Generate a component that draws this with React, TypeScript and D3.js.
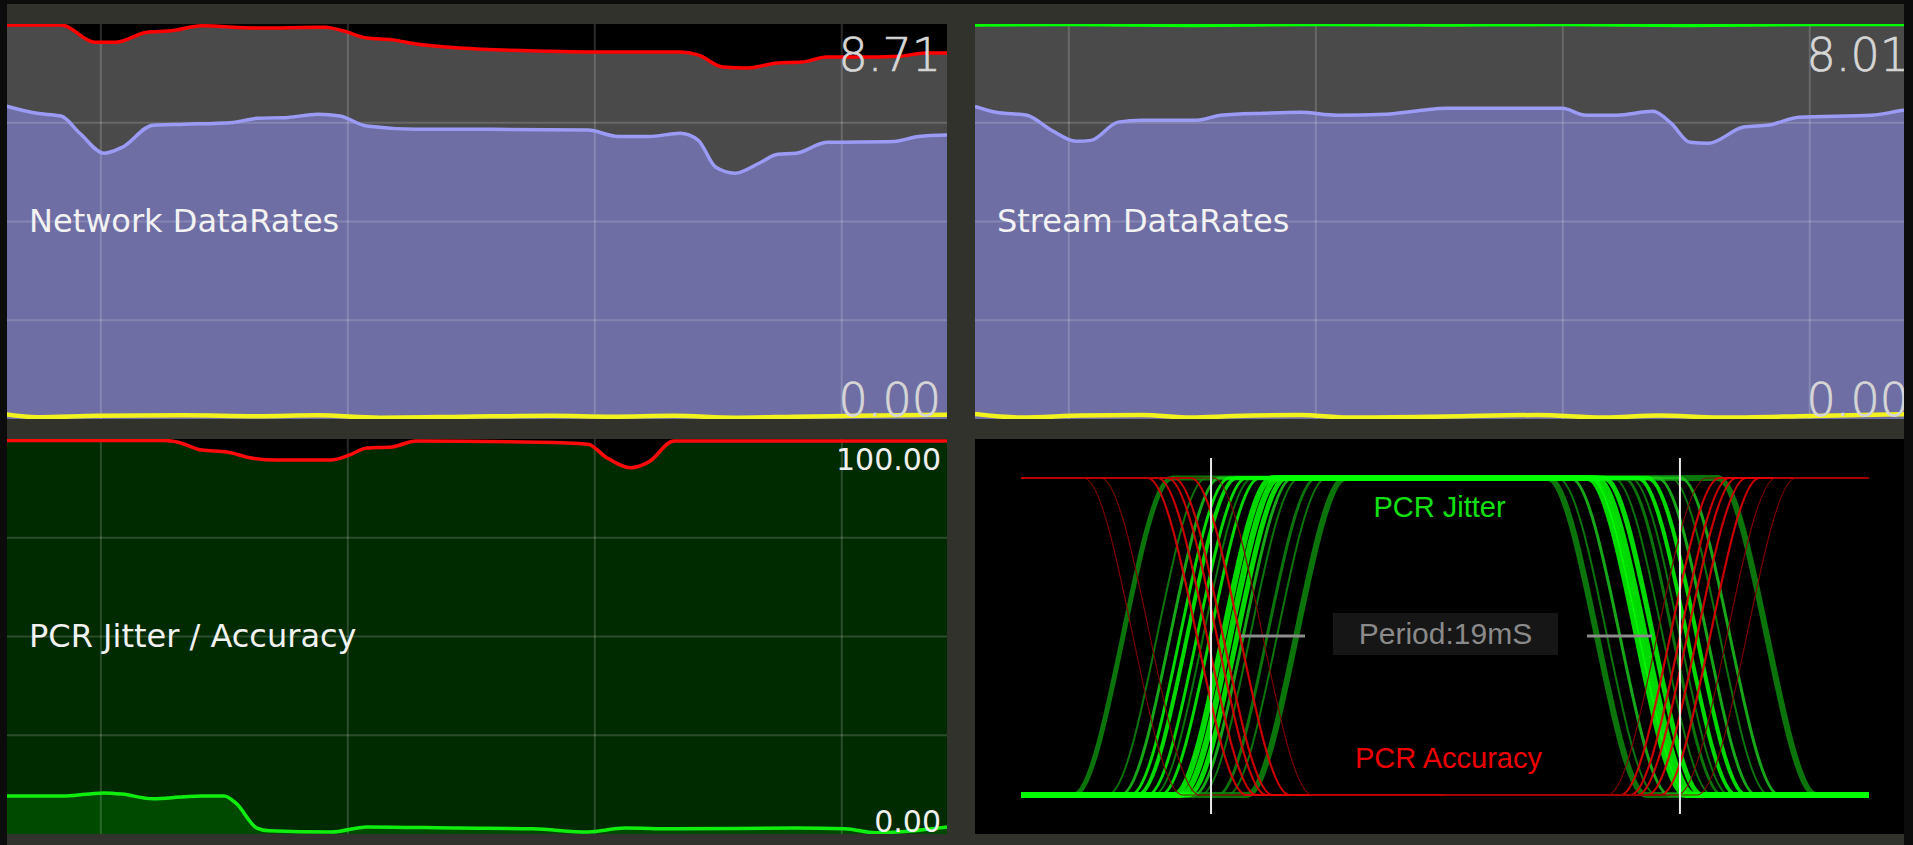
import React from 'react'
import * as d3 from 'd3'

// shared time axis for the three trend panels (grid every 10 units)
const trendDomain: [number, number] = [-3.8, 34.26]
const gridTimes = [0, 10, 20, 30]
const gridFractions = [0.25, 0.5, 0.75]

// Network DataRates (Mbps)
const netMax = 8.71
const netPeakT = [-3.84, -1.61, -0.24, 0.61, 1.87, 2.84, 4.09, 6.32, 9.07, 9.8, 10.77, 11.79, 12.76, 14.5, 18.22, 20.69, 23.45, 24.18, 25.19, 26.16, 27.41, 28.39, 29.4, 30.61, 32.35, 33.37, 34.26]
const netPeakV = [8.69, 8.69, 8.31, 8.31, 8.53, 8.56, 8.67, 8.62, 8.64, 8.56, 8.4, 8.36, 8.27, 8.18, 8.11, 8.09, 8.09, 8.03, 7.76, 7.74, 7.85, 7.87, 7.98, 7.98, 8.0, 8.07, 8.07]
const netRateT = [-3.84, -2.59, -1.61, -0.85, 0.13, 0.86, 2.11, 3.37, 5.35, 6.32, 7.58, 8.79, 9.68, 10.77, 12.76, 15.75, 19.72, 20.94, 22.19, 23.45, 24.18, 24.9, 25.67, 26.65, 27.41, 28.14, 29.4, 32.11, 33.12, 34.26]
const netRateV = [6.9, 6.74, 6.68, 6.3, 5.86, 5.99, 6.48, 6.5, 6.54, 6.63, 6.65, 6.72, 6.68, 6.46, 6.39, 6.39, 6.37, 6.23, 6.23, 6.3, 6.15, 5.55, 5.42, 5.64, 5.84, 5.86, 6.1, 6.12, 6.23, 6.26]
const netLowT = [-3.84, -2.59, -0.12, 3.37, 6.32, 8.79, 11.3, 14.7, 18.2, 20.7, 23.2, 25.7, 28.1, 30.6, 34.26]
const netLowV = [0.1, 0.04, 0.07, 0.08, 0.06, 0.08, 0.03, 0.05, 0.07, 0.05, 0.07, 0.03, 0.05, 0.07, 0.095]

// Stream DataRates (Mbps)
const streamMax = 8.01
const streamPeakT = [-3.8, 0, 5, 10, 15, 20, 25, 30, 34.26]
const streamPeakV = [7.99, 8.0, 7.98, 8.0, 7.99, 8.0, 7.98, 8.0, 8.0]
const streamRateT = [-3.8, -2.95, -1.7, -0.72, 0.29, 0.9, 1.99, 2.96, 5.19, 6.16, 7.9, 9.36, 10.86, 12.84, 14.3, 15.27, 19.97, 20.94, 22.19, 23.65, 24.38, 25.15, 25.88, 27.33, 28.35, 29.56, 32.52, 33.81, 34.26]
const streamRateV = [6.34, 6.22, 6.16, 5.86, 5.63, 5.65, 6.02, 6.06, 6.06, 6.16, 6.2, 6.22, 6.16, 6.18, 6.26, 6.3, 6.3, 6.16, 6.16, 6.24, 6.0, 5.61, 5.59, 5.92, 5.96, 6.12, 6.16, 6.26, 6.28]
const streamLowT = [-3.8, -1.94, 0.53, 2.96, 4.94, 6.69, 9.36, 11.34, 15.27, 18.95, 21.67, 23.89, 26.36, 30.05, 34.26]
const streamLowV = [0.1, 0.03, 0.07, 0.08, 0.03, 0.06, 0.08, 0.03, 0.05, 0.08, 0.03, 0.07, 0.03, 0.06, 0.1]

// PCR Jitter / Accuracy (%)
const pcrMax = 100
const accuracyT = [-3.84, 2.6, 3.12, 4.09, 5.11, 6.08, 7.09, 9.32, 10.05, 10.77, 11.79, 12.76, 17.74, 19.72, 20.45, 21.46, 22.19, 23.2, 34.26]
const accuracyV = [99.6, 99.6, 99.2, 97.2, 96.7, 95.2, 94.7, 94.7, 95.9, 97.7, 98.0, 99.5, 99.2, 98.7, 95.4, 92.7, 94.2, 99.5, 99.5]
const jitterT = [-3.84, -1.61, 0.13, 0.86, 2.11, 3.37, 4.09, 4.99, 5.47, 6.32, 6.81, 9.32, 10.77, 14.5, 17.5, 19.72, 21.22, 23.2, 28.14, 30.13, 31.38, 34.26]
const jitterV = [9.6, 9.6, 10.4, 10.1, 8.9, 9.4, 9.6, 9.6, 7.8, 1.5, 0.8, 0.5, 1.8, 1.5, 1.3, 0.5, 1.5, 1.3, 1.5, 1.3, 0.3, 1.8]

// PCR eye (ms)
const periodMs = 19
const eyeDomain: [number, number] = [-7.7, 26.66]
const edgeMs = 4.0
const greenRise = [-3.57, -2.19, -1.66, -1.26, -0.97, -0.57, -0.32, -0.04, 0.49, 0.77, 1.05, 1.3, 1.58, 2.27, 2.67, 3.45]
const greenRiseShade = ['dark', 'dark', 'mid', 'bright', 'bright', 'bright', 'dark', 'bright', 'bright', 'bright', 'bright', 'mid', 'dark', 'dark', 'dark', 'dark']
const greenRiseWidth = [5, 2, 3, 3, 4, 3, 2, 3, 6, 6, 5, 3, 2, 3, 2, 6]
const greenFall = [15.64, 16.05, 16.57, 17.26, 17.4, 17.59, 17.91, 18.31, 18.72, 19.0, 19.29, 19.69, 20.1, 20.62, 21.03, 22.53]
const greenFallShade = ['dark', 'dark', 'mid', 'bright', 'bright', 'bright', 'bright', 'dark', 'dark', 'dark', 'bright', 'bright', 'mid', 'dark', 'mid', 'dark']
const greenFallWidth = [6, 2, 3, 6, 4, 6, 5, 2, 3, 2, 4, 4, 3, 2, 3, 6]
const redFall = [-3.16, -2.47, -0.57, -0.16, 0.24, 0.49, 1.18, 2.1]
const redFallFaint = [true, true, false, false, false, false, false, true]
const redRise = [18.07, 18.6, 19.0, 19.29, 19.69, 20.22, 20.9, 21.7]
const redRiseFaint = [true, false, false, false, false, false, true, true]

const W = 940
const H = 395
const shadeColor: Record<string, string> = { bright: '#00ff00', mid: '#1cc41c', dark: '#0d8a0d' }
const shadeRank: Record<string, number> = { dark: 0, mid: 1, bright: 2 }

type Layer = { t: number[]; v: number[]; fill?: string; stroke: string; width: number }

const TrendPanel = ({ id, x0, y0, max, layers, label, topText, bottomText, big }: any) => {
  const x = d3.scaleLinear().domain(trendDomain).range([x0, x0 + W])
  const y = d3.scaleLinear().domain([0, max]).range([y0 + H, y0])
  const area = d3.area<[number, number]>().x(d => x(d[0])).y0(y0 + H).y1(d => y(d[1])).curve(d3.curveMonotoneX)
  const line = d3.line<[number, number]>().x(d => x(d[0])).y(d => y(d[1])).curve(d3.curveMonotoneX)
  const valueStyle = big
    ? { fontFamily: 'DejaVu Sans', fontSize: 46, fontWeight: 200, fill: '#d6d6d6', stroke: '#d6d6d6', strokeWidth: 0.7 }
    : { fontFamily: 'DejaVu Sans', fontSize: 30, fill: '#f0f0f0' }

  return (
    <g clipPath={`url(#${id})`}>
      <rect x={x0} y={y0} width={W} height={H} fill="#000" />
      {(layers as Layer[]).filter(l => l.fill).map((l, i) => (
        <path key={'a' + i} d={area(d3.zip(l.t, l.v) as [number, number][]) || ''} fill={l.fill} />
      ))}
      {gridTimes.map(t => (
        <line key={'gx' + t} x1={x(t)} x2={x(t)} y1={y0} y2={y0 + H} stroke="rgba(255,255,255,0.17)" strokeWidth={2} />
      ))}
      {gridFractions.map(f => (
        <line key={'gy' + f} x1={x0} x2={x0 + W} y1={y(max * f)} y2={y(max * f)} stroke="rgba(255,255,255,0.17)" strokeWidth={2} />
      ))}
      {(layers as Layer[]).map((l, i) => (
        <path key={'l' + i} d={line(d3.zip(l.t, l.v) as [number, number][]) || ''} fill="none" stroke={l.stroke} strokeWidth={l.width} />
      ))}
      <text x={x0 + 22} y={y0 + 208} fontFamily="DejaVu Sans" fontSize={32} fill="#f2f2f2">{label}</text>
      <text x={x0 + W - 6} y={big ? y0 + 47 : y0 + 31} textAnchor="end" {...valueStyle}>{topText}</text>
      <text x={x0 + W - 6} y={big ? y0 + 392 : y0 + 393} textAnchor="end" {...valueStyle}>{bottomText}</text>
    </g>
  )
}

const EyePanel = ({ id, x0, y0 }: any) => {
  const x = d3.scaleLinear().domain(eyeDomain).range([x0 + 46, x0 + 894])
  const y = d3.scaleLinear().domain([0, 1]).range([y0 + 356, y0 + 39])
  const line = d3.line<[number, number]>().x(d => x(d[0])).y(d => y(d[1])).curve(d3.curveMonotoneX)
  const mid = periodMs / 2
  const h = edgeMs / 2
  const edge = (a: number, b: number, t: number, start: number, end: number) =>
    line([[start, a], [t - h, a], [t + h, b], [end, b]]) || ''
  const cx = x(mid)
  const boxW = 225
  const boxY = y0 + 174

  // darker traces underneath so the bright ones own the flat rails
  const greens = [
    ...greenRise.map((t, i) => ({ d: edge(0, 1, t, eyeDomain[0], mid), shade: greenRiseShade[i], w: greenRiseWidth[i] })),
    ...greenFall.map((t, i) => ({ d: edge(1, 0, t, mid, eyeDomain[1]), shade: greenFallShade[i], w: greenFallWidth[i] })),
  ].sort((a, b) => shadeRank[a.shade] - shadeRank[b.shade])

  return (
    <g clipPath={`url(#${id})`}>
      <rect x={x0} y={y0} width={W} height={H} fill="#000" />
      {greens.map((g, i) => (
        <path key={'g' + i} d={g.d} fill="none" stroke={shadeColor[g.shade]} strokeWidth={g.w} strokeOpacity={0.85} />
      ))}
      {redFall.map((t, i) => (
        <path key={'rf' + i} d={edge(1, 0, t, eyeDomain[0], mid)} fill="none"
          stroke={redFallFaint[i] ? '#8a0000' : '#e00000'} strokeWidth={redFallFaint[i] ? 1.2 : 2.2} strokeOpacity={0.9} />
      ))}
      {redRise.map((t, i) => (
        <path key={'rr' + i} d={edge(0, 1, t, mid, eyeDomain[1])} fill="none"
          stroke={redRiseFaint[i] ? '#8a0000' : '#e00000'} strokeWidth={redRiseFaint[i] ? 1.2 : 2.2} strokeOpacity={0.9} />
      ))}
      {[0, periodMs].map(t => (
        <line key={'p' + t} x1={x(t)} x2={x(t)} y1={y0 + 19} y2={y0 + 375} stroke="#e8e8e8" strokeWidth={2} />
      ))}
      <text x={cx - 6} y={y0 + 78} textAnchor="middle" fontFamily="Liberation Sans" fontSize={29} fill="#12e012">PCR Jitter</text>
      <text x={cx + 3} y={y0 + 329} textAnchor="middle" fontFamily="Liberation Sans" fontSize={29} fill="#ee0000">PCR Accuracy</text>
      <rect x={cx - boxW / 2} y={boxY} width={boxW} height={42} fill="#161616" />
      <text x={cx} y={boxY + 31} textAnchor="middle" fontFamily="Liberation Sans" fontSize={30} fill="#8a8a8a">Period:{periodMs}mS</text>
      <line x1={cx - boxW / 2 - 92} x2={cx - boxW / 2 - 28} y1={boxY + 23} y2={boxY + 23} stroke="#8c8c8c" strokeWidth={3} />
      <line x1={cx + boxW / 2 + 29} x2={cx + boxW / 2 + 94} y1={boxY + 23} y2={boxY + 23} stroke="#8c8c8c" strokeWidth={3} />
    </g>
  )
}

const App = () => {
  const netLayers: Layer[] = [
    { t: netPeakT, v: netPeakV, fill: '#4a4a4a', stroke: '#ff0000', width: 3.5 },
    { t: netRateT, v: netRateV, fill: '#6e6ea4', stroke: '#9b9bf6', width: 3.5 },
    { t: netLowT, v: netLowV, stroke: '#f2f21e', width: 4.5 },
  ]
  const streamLayers: Layer[] = [
    { t: streamPeakT, v: streamPeakV, fill: '#4a4a4a', stroke: '#00ff00', width: 3.5 },
    { t: streamRateT, v: streamRateV, fill: '#6e6ea4', stroke: '#9b9bf6', width: 3.5 },
    { t: streamLowT, v: streamLowV, stroke: '#f2f21e', width: 4.5 },
  ]
  const pcrLayers: Layer[] = [
    { t: accuracyT, v: accuracyV, fill: '#002a00', stroke: '#ff0a0a', width: 3.5 },
    { t: jitterT, v: jitterV, fill: '#004a00', stroke: '#10ee10', width: 3.5 },
  ]

  return (
    <svg width={1913} height={845} style={{ position: 'absolute', left: 0, top: 0, display: 'block' }}>
      <defs>
        <clipPath id="frame"><rect x={7} y={4} width={1897} height={841} /></clipPath>
        <clipPath id="c1"><rect x={7} y={24} width={W} height={H} /></clipPath>
        <clipPath id="c2"><rect x={975} y={24} width={W} height={H} /></clipPath>
        <clipPath id="c3"><rect x={7} y={439} width={W} height={H} /></clipPath>
        <clipPath id="c4"><rect x={975} y={439} width={W} height={H} /></clipPath>
      </defs>
      <rect width={1913} height={845} fill="#0c0c0c" />
      <g clipPath="url(#frame)">
        <rect x={7} y={4} width={1897} height={841} fill="#32322c" />
        <TrendPanel id="c1" x0={7} y0={24} max={netMax} layers={netLayers} label="Network DataRates"
          topText={netMax.toFixed(2)} bottomText={(0).toFixed(2)} big />
        <TrendPanel id="c2" x0={975} y0={24} max={streamMax} layers={streamLayers} label="Stream DataRates"
          topText={streamMax.toFixed(2)} bottomText={(0).toFixed(2)} big />
        <TrendPanel id="c3" x0={7} y0={439} max={pcrMax} layers={pcrLayers} label="PCR Jitter / Accuracy"
          topText={pcrMax.toFixed(2)} bottomText={(0).toFixed(2)} />
        <EyePanel id="c4" x0={975} y0={439} />
      </g>
    </svg>
  )
}

export default App
